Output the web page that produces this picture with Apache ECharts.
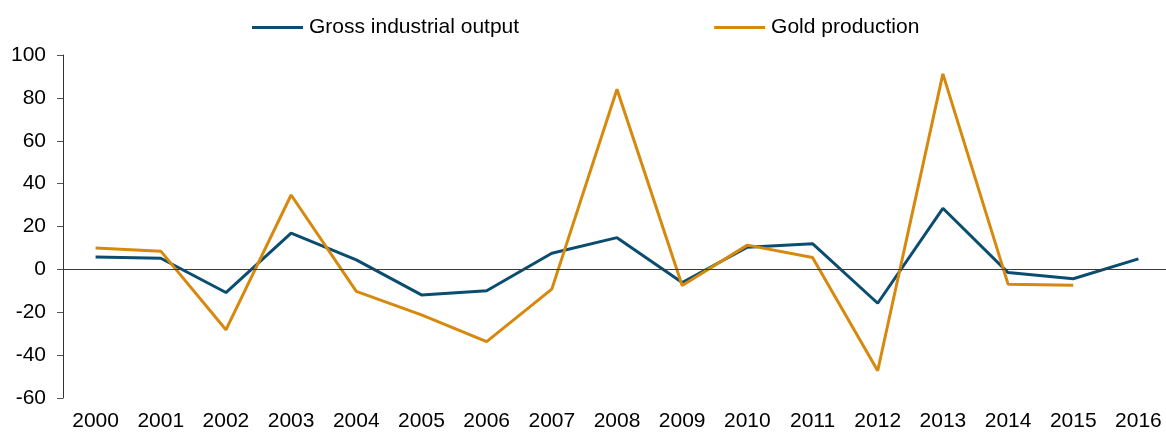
<!DOCTYPE html>
<html>
<head>
<meta charset="utf-8">
<script src="https://cdn.jsdelivr.net/npm/echarts@6/dist/echarts.min.js"></script>
<style>
html,body{margin:0;padding:0;background:#fff;}
#chart{width:1166px;height:432px;}
</style>
</head>
<body>
<div id="chart"></div>
<script>
// 年份
const years = ['2000','2001','2002','2003','2004','2005','2006','2007','2008','2009','2010','2011','2012','2013','2014','2015','2016'];
// Gross industrial output
const grossOutput = [5.8, 5.2, -10.8, 16.9, 4.4, -11.9, -10.0, 7.5, 14.8, -6.1, 10.3, 12.0, -15.8, 28.5, -1.5, -4.4, 4.9];
// Gold production (2016 缺失)
const goldOutput = [10.0, 8.5, -28.2, 34.7, -10.3, -21.2, -33.7, -9.2, 84.0, -7.5, 11.3, 5.5, -47.3, 91.2, -6.9, -7.4, null];
// y轴刻度
const yTicks = [-60, -40, -20, 0, 20, 40, 60, 80, 100];

const BLUE = '#0b4d70';
const GOLD = '#d6890c';
const FONT = 'Liberation Sans, Arial, sans-serif';

let myChart = echarts.init(document.getElementById('chart'));

let option = {
	backgroundColor: '#fff',
	animation: false,
	textStyle: {fontFamily: FONT},
	legend: {
		data: ['Gross industrial output', 'Gold production'],
		left: 247,
		top: 12,
		itemWidth: 51,
		itemHeight: 3,
		itemGap: 195,
		textStyle: {fontSize: 21, color: '#000', fontFamily: FONT, padding: [0, 0, 0, 1]}
	},
	grid: {
		left: 63,
		right: -5,
		top: 55,
		bottom: 34,
		outerBoundsMode: 'none'
	},
	xAxis: {
		type: 'category',
		data: years,
		boundaryGap: true,
		axisLine: {show: false},
		axisTick: {show: false},
		axisLabel: {fontSize: 21, color: '#000', margin: 13, fontFamily: FONT, interval: 0},
		splitLine: {show: false}
	},
	yAxis: {
		type: 'value',
		min: yTicks[0],
		max: yTicks[yTicks.length - 1],
		interval: 20,
		axisLine: {show: true, lineStyle: {color: '#333', width: 1}},
		axisTick: {show: true, length: 6, lineStyle: {color: '#555'}},
		axisLabel: {fontSize: 21, color: '#000', margin: 17, fontFamily: FONT},
		splitLine: {show: false}
	},
	series: [
		{
			//零线
			name: 'zero',
			type: 'line',
			data: [],
			silent: true,
			markLine: {
				silent: true,
				symbol: 'none',
				label: {show: false},
				lineStyle: {color: '#3a3a3a', width: 1.2, type: 'solid'},
				data: [{yAxis: 0}]
			}
		},
		{
			name: 'Gross industrial output',
			type: 'line',
			data: grossOutput,
			symbol: 'none',
			color: BLUE,
			lineStyle: {color: BLUE, width: 3},
			itemStyle: {color: BLUE}
		},
		{
			name: 'Gold production',
			type: 'line',
			data: goldOutput,
			symbol: 'none',
			color: GOLD,
			lineStyle: {color: GOLD, width: 3},
			itemStyle: {color: GOLD}
		}
	]
};
// legend 图标用细长矩形模拟线段
option.legend.data = option.legend.data.map(function(name, i){
	return {name: name, icon: 'path://M0,0 L51,0 L51,3 L0,3 Z', itemStyle: {color: i == 0 ? BLUE : GOLD}};
});
myChart.setOption(option);
</script>
</body>
</html>
